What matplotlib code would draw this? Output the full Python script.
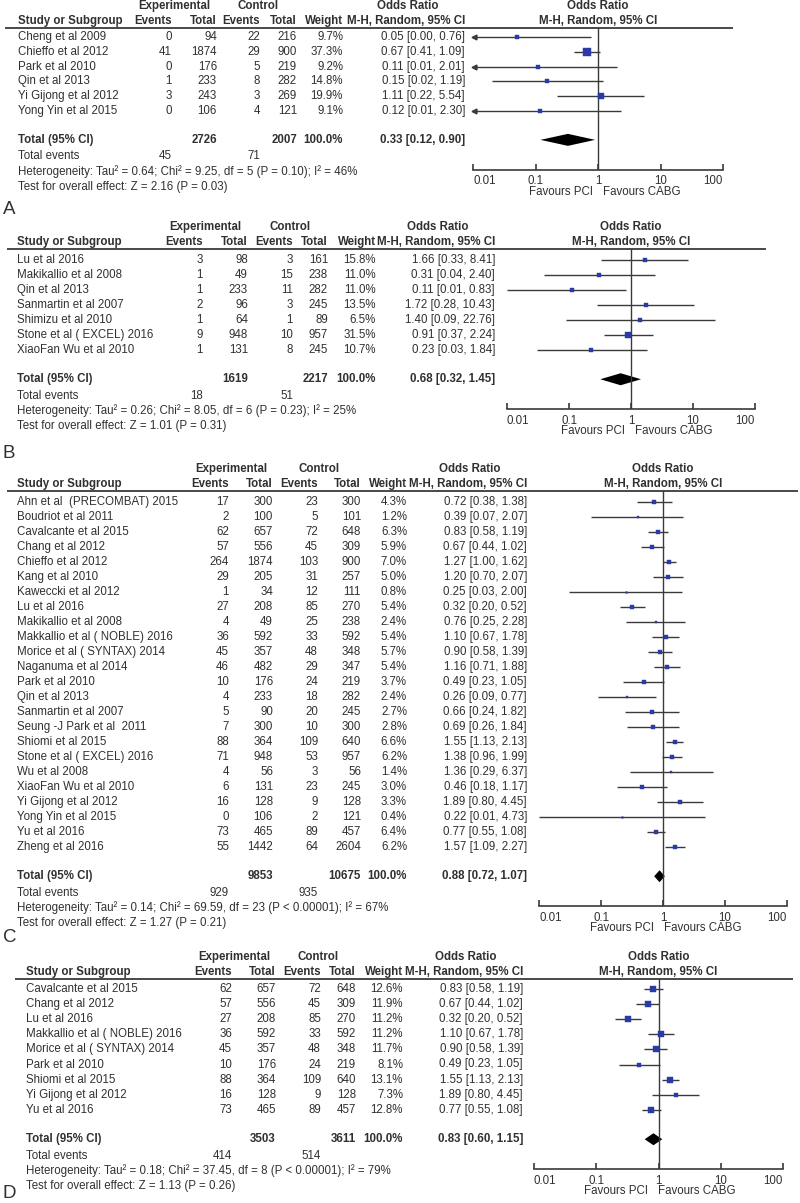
import matplotlib
matplotlib.use("Agg")
import matplotlib.pyplot as plt
from matplotlib.patches import Polygon

plt.rcParams['font.family'] = ['Liberation Sans', 'DejaVu Sans']

# ---------------- data ----------------
# panel A
A_study = ["Cheng et al 2009", "Chieffo et al 2012", "Park et al 2010", "Qin et al 2013",
           "Yi Gijong et al 2012", "Yong Yin et al 2015"]
A_ev1 = [0, 41, 0, 1, 3, 0]
A_n1 = [94, 1874, 176, 233, 243, 106]
A_ev2 = [22, 29, 5, 8, 3, 4]
A_n2 = [216, 900, 219, 282, 269, 121]
A_w = [9.7, 37.3, 9.2, 14.8, 19.9, 9.1]
A_or = [0.05, 0.67, 0.11, 0.15, 1.11, 0.12]
A_lo = [0.00, 0.41, 0.01, 0.02, 0.22, 0.01]
A_hi = [0.76, 1.09, 2.01, 1.19, 5.54, 2.30]
A_arrow = [True, False, True, False, False, True]
A_total_n = [2726, 2007]
A_total_or = [0.33, 0.12, 0.90]
A_total_ev = [45, 71]
A_het = "Heterogeneity: Tau² = 0.64; Chi² = 9.25, df = 5 (P = 0.10); I² = 46%"
A_test = "Test for overall effect: Z = 2.16 (P = 0.03)"

# panel B
B_study = ["Lu et al 2016", "Makikallio et al 2008", "Qin et al 2013", "Sanmartin et al 2007",
           "Shimizu et al 2010", "Stone et al ( EXCEL) 2016", "XiaoFan Wu et al 2010"]
B_ev1 = [3, 1, 1, 2, 1, 9, 1]
B_n1 = [98, 49, 233, 96, 64, 948, 131]
B_ev2 = [3, 15, 11, 3, 1, 10, 8]
B_n2 = [161, 238, 282, 245, 89, 957, 245]
B_w = [15.8, 11.0, 11.0, 13.5, 6.5, 31.5, 10.7]
B_or = [1.66, 0.31, 0.11, 1.72, 1.40, 0.91, 0.23]
B_lo = [0.33, 0.04, 0.01, 0.28, 0.09, 0.37, 0.03]
B_hi = [8.41, 2.40, 0.83, 10.43, 22.76, 2.24, 1.84]
B_arrow = [False] * 7
B_total_n = [1619, 2217]
B_total_or = [0.68, 0.32, 1.45]
B_total_ev = [18, 51]
B_het = "Heterogeneity: Tau² = 0.26; Chi² = 8.05, df = 6 (P = 0.23); I² = 25%"
B_test = "Test for overall effect: Z = 1.01 (P = 0.31)"

# panel C
C_study = ["Ahn et al  (PRECOMBAT) 2015", "Boudriot et al 2011", "Cavalcante et al 2015",
           "Chang et al 2012", "Chieffo et al 2012", "Kang et al 2010", "Kaweccki et al 2012",
           "Lu et al 2016", "Makikallio et al 2008", "Makkallio et al ( NOBLE) 2016",
           "Morice et al ( SYNTAX) 2014", "Naganuma et al 2014", "Park et al 2010",
           "Qin et al 2013", "Sanmartin et al 2007", "Seung -J Park et al  2011",
           "Shiomi et al 2015", "Stone et al ( EXCEL) 2016", "Wu et al 2008",
           "XiaoFan Wu et al 2010", "Yi Gijong et al 2012", "Yong Yin et al 2015",
           "Yu et al 2016", "Zheng et al 2016"]
C_ev1 = [17, 2, 62, 57, 264, 29, 1, 27, 4, 36, 45, 46, 10, 4, 5, 7, 88, 71, 4, 6, 16, 0, 73, 55]
C_n1 = [300, 100, 657, 556, 1874, 205, 34, 208, 49, 592, 357, 482, 176, 233, 90, 300, 364,
        948, 56, 131, 128, 106, 465, 1442]
C_ev2 = [23, 5, 72, 45, 103, 31, 12, 85, 25, 33, 48, 29, 24, 18, 20, 10, 109, 53, 3, 23, 9, 2,
         89, 64]
C_n2 = [300, 101, 648, 309, 900, 257, 111, 270, 238, 592, 348, 347, 219, 282, 245, 300, 640,
        957, 56, 245, 128, 121, 457, 2604]
C_w = [4.3, 1.2, 6.3, 5.9, 7.0, 5.0, 0.8, 5.4, 2.4, 5.4, 5.7, 5.4, 3.7, 2.4, 2.7, 2.8, 6.6, 6.2,
       1.4, 3.0, 3.3, 0.4, 6.4, 6.2]
C_or = [0.72, 0.39, 0.83, 0.67, 1.27, 1.20, 0.25, 0.32, 0.76, 1.10, 0.90, 1.16, 0.49, 0.26,
        0.66, 0.69, 1.55, 1.38, 1.36, 0.46, 1.89, 0.22, 0.77, 1.57]
C_lo = [0.38, 0.07, 0.58, 0.44, 1.00, 0.70, 0.03, 0.20, 0.25, 0.67, 0.58, 0.71, 0.23, 0.09,
        0.24, 0.26, 1.13, 0.96, 0.29, 0.18, 0.80, 0.01, 0.55, 1.09]
C_hi = [1.38, 2.07, 1.19, 1.02, 1.62, 2.07, 2.00, 0.52, 2.28, 1.78, 1.39, 1.88, 1.05, 0.77,
        1.82, 1.84, 2.13, 1.99, 6.37, 1.17, 4.45, 4.73, 1.08, 2.27]
C_arrow = [False] * 24
C_total_n = [9853, 10675]
C_total_or = [0.88, 0.72, 1.07]
C_total_ev = [929, 935]
C_het = "Heterogeneity: Tau² = 0.14; Chi² = 69.59, df = 23 (P < 0.00001); I² = 67%"
C_test = "Test for overall effect: Z = 1.27 (P = 0.21)"

# panel D
D_study = ["Cavalcante et al 2015", "Chang et al 2012", "Lu et al 2016",
           "Makkallio et al ( NOBLE) 2016", "Morice et al ( SYNTAX) 2014", "Park et al 2010",
           "Shiomi et al 2015", "Yi Gijong et al 2012", "Yu et al 2016"]
D_ev1 = [62, 57, 27, 36, 45, 10, 88, 16, 73]
D_n1 = [657, 556, 208, 592, 357, 176, 364, 128, 465]
D_ev2 = [72, 45, 85, 33, 48, 24, 109, 9, 89]
D_n2 = [648, 309, 270, 592, 348, 219, 640, 128, 457]
D_w = [12.6, 11.9, 11.2, 11.2, 11.7, 8.1, 13.1, 7.3, 12.8]
D_or = [0.83, 0.67, 0.32, 1.10, 0.90, 0.49, 1.55, 1.89, 0.77]
D_lo = [0.58, 0.44, 0.20, 0.67, 0.58, 0.23, 1.13, 0.80, 0.55]
D_hi = [1.19, 1.02, 0.52, 1.78, 1.39, 1.05, 2.13, 4.45, 1.08]
D_arrow = [False] * 9
D_total_n = [3503, 3611]
D_total_or = [0.83, 0.60, 1.15]
D_total_ev = [414, 514]
D_het = "Heterogeneity: Tau² = 0.18; Chi² = 37.45, df = 8 (P < 0.00001); I² = 79%"
D_test = "Test for overall effect: Z = 1.13 (P = 0.26)"

ticks = [0.01, 0.1, 1, 10, 100]
tick_labels = ["0.01", "0.1", "1", "10", "100"]

# ---------------- layout (pixels) ----------------
W, H = 800, 1203
FS = 8.3
TXT = '#303030'
BLUE = '#2a3aa6'
LINE = '#3a3a3a'

panels = [
    dict(letter='A', study=A_study, ev1=A_ev1, n1=A_n1, ev2=A_ev2, n2=A_n2, w=A_w, orr=A_or,
         lo=A_lo, hi=A_hi, arrow=A_arrow, tn=A_total_n, tor=A_total_or, tev=A_total_ev,
         het=A_het, test=A_test,
         line_y=28, row0=37, dy=14.8, letter_y=210, x001=473, x100=723, lx=(5, 733),
         cols=(18, 172, 217, 260, 297, 343, 465), fav_shift=0),
    dict(letter='B', study=B_study, ev1=B_ev1, n1=B_n1, ev2=B_ev2, n2=B_n2, w=B_w, orr=B_or,
         lo=B_lo, hi=B_hi, arrow=B_arrow, tn=B_total_n, tor=B_total_or, tev=B_total_ev,
         het=B_het, test=B_test,
         line_y=249, row0=260, dy=15, letter_y=453, x001=507, x100=755, lx=(7, 766),
         cols=(17, 203, 248, 293, 328, 376, 495), fav_shift=-1),
    dict(letter='C', study=C_study, ev1=C_ev1, n1=C_n1, ev2=C_ev2, n2=C_n2, w=C_w, orr=C_or,
         lo=C_lo, hi=C_hi, arrow=C_arrow, tn=C_total_n, tor=C_total_or, tev=C_total_ev,
         het=C_het, test=C_test,
         line_y=491, row0=502, dy=15, letter_y=937, x001=539, x100=787, lx=(7, 798),
         cols=(17, 229, 273, 318, 361, 407, 527), fav_shift=-4),
    dict(letter='D', study=D_study, ev1=D_ev1, n1=D_n1, ev2=D_ev2, n2=D_n2, w=D_w, orr=D_or,
         lo=D_lo, hi=D_hi, arrow=D_arrow, tn=D_total_n, tor=D_total_or, tev=D_total_ev,
         het=D_het, test=D_test,
         line_y=979, row0=989, dy=15.1, letter_y=1193, x001=534, x100=783, lx=(15, 793),
         cols=(26, 232, 276, 321, 356, 403, 523), fav_shift=-5),
]

fig = plt.figure(figsize=(W / 100, H / 100), dpi=100)
bg = fig.add_axes([0, 0, 1, 1])
bg.set_xlim(0, W)
bg.set_ylim(H, 0)
bg.axis('off')


def txt(x, y, s, ha='left', bold=False, size=FS):
    bg.text(x, y, s, ha=ha, va='center', fontsize=size, color=TXT,
            fontweight='bold' if bold else 'normal')


def ci_text(o, l, h):
    return f"{o:.2f} [{l:.2f}, {h:.2f}]"


def draw_panel(p):
    c = p['cols']
    ly, dy = p['line_y'], p['dy']
    x1 = (p['x001'] + p['x100']) / 2
    h1, h2 = ly - 22, ly - 7

    # headers
    txt((c[1] + c[2]) / 2 - 20, h1, 'Experimental', 'center', True)
    txt((c[3] + c[4]) / 2 - 20, h1, 'Control', 'center', True)
    txt(c[6] - 57, h1, 'Odds Ratio', 'center', True)
    txt(x1, h1, 'Odds Ratio', 'center', True)
    txt(c[0], h2, 'Study or Subgroup', bold=True)
    for xx, s in zip(c[1:6], ['Events', 'Total', 'Events', 'Total', 'Weight']):
        txt(xx, h2, s, 'right', True)
    txt(c[6], h2, 'M-H, Random, 95% CI', 'right', True)
    txt(x1, h2, 'M-H, Random, 95% CI', 'center', True)
    bg.plot(p['lx'], [ly, ly], color=LINE, lw=1.3, solid_capstyle='butt')

    # study rows
    rows = [p['row0'] + i * dy for i in range(len(p['study']))]
    for i, y in enumerate(rows):
        txt(c[0], y, p['study'][i])
        txt(c[1], y, str(p['ev1'][i]), 'right')
        txt(c[2], y, str(p['n1'][i]), 'right')
        txt(c[3], y, str(p['ev2'][i]), 'right')
        txt(c[4], y, str(p['n2'][i]), 'right')
        txt(c[5], y, f"{p['w'][i]:.1f}%", 'right')
        txt(c[6], y, ci_text(p['orr'][i], p['lo'][i], p['hi'][i]), 'right')

    ty = rows[-1] + 1.95 * dy
    txt(c[0], ty, 'Total (95% CI)', bold=True)
    txt(c[2], ty, str(p['tn'][0]), 'right', True)
    txt(c[4], ty, str(p['tn'][1]), 'right', True)
    txt(c[5], ty, '100.0%', 'right', True)
    txt(c[6], ty, ci_text(*p['tor']), 'right', True)
    txt(c[0], ty + 16.5, 'Total events')
    txt(c[1], ty + 16.5, str(p['tev'][0]), 'right')
    txt(c[3], ty + 16.5, str(p['tev'][1]), 'right')
    txt(c[0], ty + 31.5, p['het'])
    txt(c[0], ty + 47, p['test'])
    txt(3, p['letter_y'], p['letter'], size=13.5)

    # forest plot
    ay = ty + 30
    ax = fig.add_axes([p['x001'] / W, 1 - ay / H, (p['x100'] - p['x001']) / W, (ay - ly) / H])
    ax.set_xscale('log')
    ax.set_xlim(0.01, 100)
    ax.set_ylim(ay, ly)
    ax.patch.set_alpha(0)
    for s in ['top', 'left', 'right']:
        ax.spines[s].set_visible(False)
    ax.spines['bottom'].set_color(LINE)
    ax.spines['bottom'].set_linewidth(1.2)
    ax.set_yticks([])
    ax.xaxis.set_minor_locator(matplotlib.ticker.NullLocator())
    ax.set_xticks(ticks)
    ax.set_xticklabels(tick_labels)
    ax.tick_params(axis='x', direction='in', length=4.5, width=1.2, color=LINE,
                   labelsize=FS, labelcolor=TXT, pad=4)
    lbls = ax.get_xticklabels()
    lbls[0].set_ha('left')
    lbls[-1].set_ha('right')

    ax.axvline(1, color=LINE, lw=1.0)
    wmax = max(p['w'])
    big = 4.5 + 0.07 * wmax  # px side of the largest square
    for i, y in enumerate(rows):
        left = max(p['lo'][i], 0.01)
        ax.hlines(y, left, p['hi'][i], color=LINE, lw=1.0)
        if p['arrow'][i]:
            ax.plot(0.0105, y, marker='<', ms=3.5, color=LINE, clip_on=False)
        side_px = max(big * (p['w'][i] / wmax) ** 0.5, 1.6)
        ax.plot(p['orr'][i], y, marker='s', ms=side_px * 0.72, color=BLUE, mec=BLUE,
                mew=0.3, clip_on=False)
    o, l, h = p['tor']
    ax.add_patch(Polygon([(l, ty), (o, ty - 6), (h, ty), (o, ty + 6)], closed=True,
                         color='black', lw=0))

    fs = p['fav_shift']
    txt(x1 + fs - 5, ay + 22, 'Favours PCI', 'right')
    txt(x1 + fs + 5, ay + 22, 'Favours CABG', 'left')


for p in panels:
    draw_panel(p)

fig.savefig('out.png', dpi=100)
